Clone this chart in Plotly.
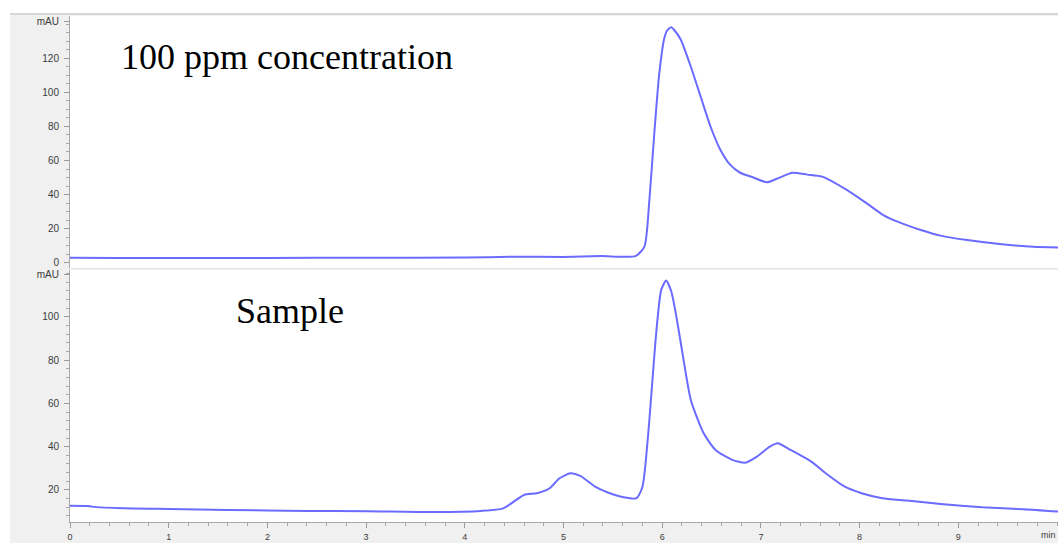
import plotly.graph_objects as go
from plotly.subplots import make_subplots

# ---- data ----
top_time = [0.0, 0.5, 1.0, 2.0, 3.0, 4.0, 4.5, 5.0, 5.38, 5.73, 5.82, 5.87, 5.92, 5.97,
            6.02, 6.05, 6.09, 6.13, 6.19, 6.29, 6.39, 6.49, 6.59, 6.69, 6.79, 6.93, 7.06,
            7.17, 7.32, 7.47, 7.62, 7.87, 8.08, 8.24, 8.41, 8.62, 8.82, 9.09, 9.42, 9.76,
            10.01]
top_mau = [2.9, 2.8, 2.8, 2.8, 2.9, 3.0, 3.5, 3.4, 3.9, 3.9, 9.4, 36.8, 76.0, 111.0,
           131.5, 136.3, 138.2, 136.0, 130.7, 115.0, 97.4, 79.8, 66.2, 57.4, 52.8, 49.9,
           47.2, 49.5, 52.8, 51.7, 50.5, 42.7, 34.5, 28.0, 23.5, 19.2, 15.9, 13.3, 11.0,
           9.4, 9.0]

sample_time = [0.0, 0.18, 0.22, 0.55, 1.0, 1.6, 2.4, 3.0, 3.68, 4.16, 4.39, 4.60, 4.73,
               4.86, 4.96, 5.07, 5.17, 5.32, 5.45, 5.61, 5.74, 5.80, 5.87, 5.93, 5.99,
               6.04, 6.09, 6.14, 6.20, 6.29, 6.42, 6.54, 6.71, 6.84, 6.96, 7.09, 7.17,
               7.30, 7.51, 7.68, 7.85, 8.02, 8.23, 8.48, 8.82, 9.24, 9.66, 10.01]
sample_mau = [12.7, 12.6, 12.3, 11.5, 11.2, 10.8, 10.3, 10.2, 9.8, 10.3, 11.5, 17.7, 18.5,
              20.8, 25.4, 27.7, 26.5, 21.5, 18.8, 16.6, 16.2, 21.5, 52.3, 87.8, 112.4,
              116.7, 112.0, 101.0, 84.7, 61.6, 46.2, 38.5, 33.9, 32.6, 35.4, 40.0, 41.6,
              38.5, 33.1, 26.9, 21.5, 18.5, 16.2, 15.1, 13.5, 12.0, 11.1, 10.0]

x_tick_vals = [0, 1, 2, 3, 4, 5, 6, 7, 8, 9]
x_tick_text = ["0", "1", "2", "3", "4", "5", "6", "7", "8", "9"]
x_unit = "min"
top_y_vals = [0, 20, 40, 60, 80, 100, 120, 141.5]
top_y_text = ["0", "20", "40", "60", "80", "100", "120", "mAU"]
bot_y_vals = [20, 40, 60, 80, 100, 119.3]
bot_y_text = ["20", "40", "60", "80", "100", "mAU"]

label_top = "100 ppm concentration"
label_bottom = "Sample"

# ---- figure ----
W, H = 1058, 543
ML, MR, MT, MB = 70, 0, 16, 21
PH = H - MT - MB
PW = W - ML - MR

line_color = "#6b6bff"
panel_gray = "#f0f0f0"
ytick_font = dict(family="Liberation Sans, Arial", size=10, color="#3c3c3c")
xtick_font = dict(family="Liberation Sans, Arial", size=9, color="#3c3c3c")

fig = make_subplots(rows=2, cols=1, shared_xaxes=False)

fig.add_trace(go.Scatter(x=top_time, y=top_mau, mode="lines",
                         line=dict(color=line_color, width=2, shape="spline", smoothing=0.6),
                         showlegend=False, hoverinfo="skip"), row=1, col=1)
fig.add_trace(go.Scatter(x=sample_time, y=sample_mau, mode="lines",
                         line=dict(color=line_color, width=2, shape="spline", smoothing=0.6),
                         showlegend=False, hoverinfo="skip"), row=2, col=1)

gap = 2 / PH
fig.update_layout(
    width=W, height=H,
    margin=dict(l=ML, r=MR, t=MT, b=MB, pad=0),
    paper_bgcolor=panel_gray, plot_bgcolor="white",
    showlegend=False,
    xaxis=dict(domain=[0, 1], range=[0, 10.01], showticklabels=False, ticks="",
               showgrid=False, zeroline=False, showline=True, linecolor="#e6e6e6",
               linewidth=1, anchor="y"),
    yaxis=dict(domain=[0.5 + gap / 2, 1], range=[-3.1, 144.8], tickmode="array",
               tickvals=top_y_vals, ticktext=top_y_text, ticks="outside", ticklen=5,
               tickcolor="#9a9a9a", tickfont=ytick_font, ticklabelstandoff=3,
               minor=dict(tickmode="linear", tick0=0, dtick=5, ticks="outside",
                          ticklen=3, tickcolor="#a8a8a8", showgrid=False),
               showgrid=False, zeroline=False, showline=True, linecolor="#a8a8a8",
               linewidth=1, anchor="x"),
    xaxis2=dict(domain=[0, 1], range=[0, 10.01], tickmode="array",
                tickvals=x_tick_vals, ticktext=x_tick_text, ticks="outside", ticklen=5,
                tickcolor="#9a9a9a", tickfont=xtick_font, ticklabelstandoff=1,
                minor=dict(tickmode="linear", tick0=0, dtick=0.2, ticks="outside",
                           ticklen=3, tickcolor="#a8a8a8", showgrid=False),
                showgrid=False, zeroline=False, showline=True, linecolor="#a8a8a8",
                linewidth=1, anchor="y2"),
    yaxis2=dict(domain=[0, 0.5 - gap / 2], range=[5.2, 121.6], tickmode="array",
                tickvals=bot_y_vals, ticktext=bot_y_text, ticks="outside", ticklen=5,
                tickcolor="#9a9a9a", tickfont=ytick_font, ticklabelstandoff=3,
                minor=dict(tickmode="linear", tick0=0, dtick=4, ticks="outside",
                           ticklen=3, tickcolor="#a8a8a8", showgrid=False),
                showgrid=False, zeroline=False, showline=True, linecolor="#a8a8a8",
                linewidth=1, anchor="x2"),
)

# white strips outside the software frame (left edge and top edge)
px_left = -ML / PW
px0 = (10 - ML) / PW
py_top = 1 + 2 / PH
py_max = 1 + MT / PH
fig.add_shape(type="rect", xref="paper", yref="paper", x0=px_left, x1=px0,
              y0=-MB / PH, y1=py_max, fillcolor="white", line=dict(width=0), layer="below")
fig.add_shape(type="rect", xref="paper", yref="paper", x0=px_left, x1=1,
              y0=py_top, y1=py_max, fillcolor="white", line=dict(width=0), layer="below")
fig.add_shape(type="line", xref="paper", yref="paper", x0=px0, x1=1, y0=py_top, y1=py_top,
              line=dict(color="#d6d6d6", width=2), layer="below")

# axis unit label at the right end of the time axis
fig.add_annotation(x=1, y=-13 / PH, xref="paper", yref="paper", text=x_unit,
                   showarrow=False, xanchor="right", yanchor="middle", font=xtick_font)

serif = dict(family="Liberation Serif, Times New Roman, serif", size=36, color="black")
fig.add_annotation(x=0.50, y=120.5, xref="x", yref="y", text=label_top, showarrow=False,
                   xanchor="left", yanchor="middle", font=serif)
fig.add_annotation(x=1.66, y=102.5, xref="x2", yref="y2", text=label_bottom, showarrow=False,
                   xanchor="left", yanchor="middle", font=serif)

fig.write_html("out.html", config={"displayModeBar": False},
               post_script="document.body.style.margin='0';")
